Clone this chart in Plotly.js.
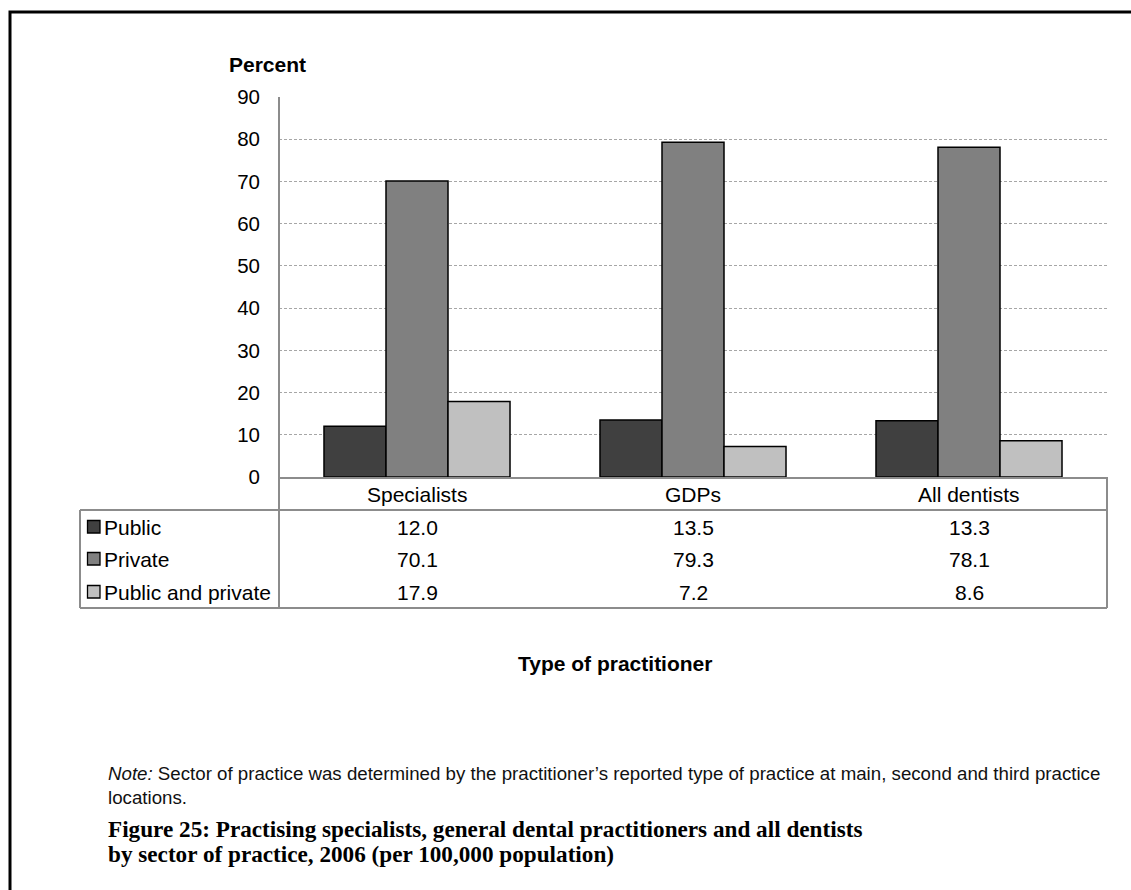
<!DOCTYPE html>
<html>
<head>
<meta charset="utf-8">
<script src="https://cdn.plot.ly/plotly-3.0.1.min.js"></script>
<style>
  html, body { margin: 0; padding: 0; background: #fff; }
  #chart { width: 1131px; height: 890px; }
</style>
</head>
<body>
<div id="chart"></div>
<script>
// ---- Data ----
const categories = ["Specialists", "GDPs", "All dentists"];
const seriesNames = ["Public", "Private", "Public and private"];
const publicVals = [12.0, 13.5, 13.3];
const privateVals = [70.1, 79.3, 78.1];
const publicPrivateVals = [17.9, 7.2, 8.6];
const yTickVals = [0, 10, 20, 30, 40, 50, 60, 70, 80, 90];
const yAxisTitle = "Percent";
const xAxisTitle = "Type of practitioner";
const noteLines = [
  "<i>Note:</i> Sector of practice was determined by the practitioner\u2019s reported type of practice at main, second and third practice",
  "locations."
];
const captionLines = [
  "Figure 25: Practising specialists, general dental practitioners and all dentists",
  "by sector of practice, 2006 (per 100,000 population)"
];

// ---- Styles ----
const colors = ["#404040", "#808080", "#c0c0c0"];
const W = 1131, H = 890;
const M = { l: 279, r: 24, t: 97, b: 413 };
const PW = W - M.l - M.r, PH = H - M.t - M.b;
const px = x => (x - M.l) / PW;       // pixel x -> paper
const py = y => (H - M.b - y) / PH;   // pixel y -> paper

const allSeries = [publicVals, privateVals, publicPrivateVals];
const traces = allSeries.map((vals, i) => ({
  type: "bar",
  name: seriesNames[i],
  x: categories,
  y: vals,
  marker: { color: colors[i], line: { color: "#000", width: 1.5 } },
  hoverinfo: "x+y+name"
}));

const font = "Arial, 'Liberation Sans', sans-serif";
const tableLine = { color: "#8c8c8c", width: 2 };

const shapes = [];
// outer border
shapes.push({ type: "rect", xref: "paper", yref: "paper", x0: px(10), x1: px(1140), y0: py(900), y1: py(12), line: { color: "#000", width: 3 }, fillcolor: "rgba(0,0,0,0)" });
// y axis line extended through table
shapes.push({ type: "line", xref: "paper", yref: "paper", x0: px(279), x1: px(279), y0: py(97), y1: py(608), line: tableLine });
// table right edge
shapes.push({ type: "line", xref: "paper", yref: "paper", x0: px(1107), x1: px(1107), y0: py(477), y1: py(608), line: tableLine });
// table left edge
shapes.push({ type: "line", xref: "paper", yref: "paper", x0: px(80), x1: px(80), y0: py(510), y1: py(608), line: tableLine });
// horizontal lines
shapes.push({ type: "line", xref: "paper", yref: "paper", x0: px(80), x1: px(1107), y0: py(510), y1: py(510), line: tableLine });
shapes.push({ type: "line", xref: "paper", yref: "paper", x0: px(80), x1: px(1107), y0: py(608), y1: py(608), line: tableLine });

const rowY = [527, 559, 592];
const annotations = [];
// category row
categories.forEach(c => annotations.push({
  xref: "x", yref: "paper", x: c, y: py(494), text: c, showarrow: false,
  font: { family: font, size: 21, color: "#000" }, xanchor: "center", yanchor: "middle"
}));
// legend column + values
seriesNames.forEach((s, i) => {
  shapes.push({ type: "rect", xref: "paper", yref: "paper",
    x0: px(87.5), x1: px(100), y0: py(rowY[i] + 6), y1: py(rowY[i] - 6.5),
    fillcolor: colors[i], line: { color: "#000", width: 1.3 } });
  annotations.push({ xref: "paper", yref: "paper", x: px(101.5), y: py(rowY[i]), text: s,
    showarrow: false, xanchor: "left", yanchor: "middle",
    font: { family: font, size: 21, color: "#000" } });
  allSeries[i].forEach((v, j) => annotations.push({
    xref: "x", yref: "paper", x: categories[j], y: py(rowY[i]), text: v.toFixed(1),
    showarrow: false, xanchor: "center", yanchor: "middle",
    font: { family: font, size: 21, color: "#000" } }));
});
// y axis title
annotations.push({ xref: "paper", yref: "paper", x: px(267), y: py(64), text: "<b>" + yAxisTitle + "</b>",
  showarrow: false, xanchor: "center", yanchor: "middle", font: { family: font, size: 21, color: "#000" } });
// x axis title
annotations.push({ xref: "paper", yref: "paper", x: px(615), y: py(663), text: "<b>" + xAxisTitle + "</b>",
  showarrow: false, xanchor: "center", yanchor: "middle", font: { family: font, size: 21, color: "#000" } });
// note
noteLines.forEach((t, k) => annotations.push({ xref: "paper", yref: "paper", x: px(106), y: py(773 + 24 * k), text: t,
  showarrow: false, xanchor: "left", yanchor: "middle", align: "left",
  font: { family: font, size: 18.7, color: "#111" } }));
// caption
captionLines.forEach((t, k) => annotations.push({ xref: "paper", yref: "paper", x: px(106), y: py(829 + 24.5 * k), text: "<b>" + t + "</b>",
  showarrow: false, xanchor: "left", yanchor: "middle", align: "left",
  font: { family: "'Liberation Serif', 'Times New Roman', serif", size: 23.2, color: "#000" } }));

const layout = {
  width: W, height: H,
  margin: M,
  paper_bgcolor: "#fff", plot_bgcolor: "#fff",
  showlegend: false,
  barmode: "group",
  bargap: 0.326,
  bargroupgap: 0,
  xaxis: {
    type: "category",
    showticklabels: false,
    showline: true, linecolor: "#8c8c8c", linewidth: 2,
    showgrid: false, zeroline: false, ticks: "", fixedrange: true
  },
  yaxis: {
    range: [0, 90],
    tickvals: yTickVals,
    ticktext: yTickVals.map(String),
    tickfont: { family: font, size: 20.5, color: "#000" },
    ticks: "", ticklabelstandoff: 18,
    showgrid: true, gridcolor: "#a6a6a6", gridwidth: 1, griddash: "3px,2px",
    zeroline: false, showline: false, fixedrange: true
  },
  shapes: shapes,
  annotations: annotations
};

Plotly.newPlot("chart", traces, layout, { displayModeBar: false, staticPlot: true });
</script>
</body>
</html>
